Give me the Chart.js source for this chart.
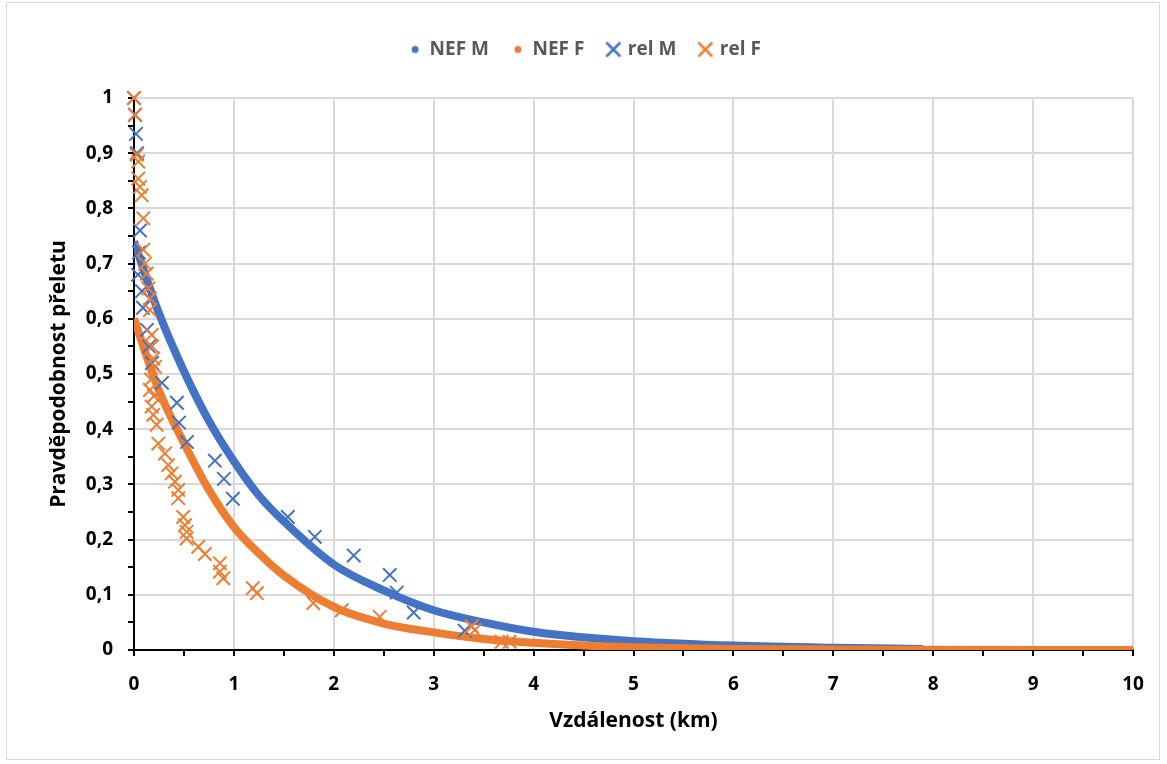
<!DOCTYPE html>
<html>
<head>
<meta charset="utf-8">
<script src="https://cdn.jsdelivr.net/npm/chart.js@4/dist/chart.umd.min.js"></script>
<style>
  body { margin: 0; background: #fff; }
  #frame { position: absolute; left: 6px; top: 2px; width: 1152px; height: 756px; border: 1px solid #d9d9d9; }
  #chart { position: absolute; left: 0; top: 0; }
</style>
</head>
<body>
<div id="frame"></div>
<canvas id="chart" width="1167" height="764"></canvas>
<script>
// fitted NEF curves
const nefX = [0, 0.25, 0.5, 0.75, 1, 1.25, 1.5, 2, 2.5, 3, 3.5, 4, 4.5, 5, 6, 7, 7.9, 9, 10];
const nefM = [0.74, 0.61, 0.505, 0.415, 0.342, 0.28, 0.233, 0.155, 0.108, 0.072, 0.05, 0.033, 0.023, 0.016, 0.008, 0.004, 0.002, null, null];
const nefF = [0.6, 0.47, 0.375, 0.29, 0.223, 0.175, 0.135, 0.078, 0.048, 0.032, 0.02, 0.013, 0.008, 0.005, 0.002, 0.001, 0.0005, 0, 0];

// measured points
const relMx = [0.0, 0.01, 0.02, 0.03, 0.06, 0.05, 0.04, 0.08, 0.09, 0.13, 0.15, 0.18, 0.28, 0.43, 0.45, 0.53, 0.81, 0.9, 0.99, 1.54, 1.81, 2.2, 2.56, 2.63, 2.8, 3.31];
const relMy = [1.0, 0.97, 0.935, 0.9, 0.76, 0.72, 0.68, 0.65, 0.62, 0.58, 0.55, 0.52, 0.484, 0.448, 0.412, 0.377, 0.343, 0.31, 0.274, 0.241, 0.205, 0.171, 0.136, 0.104, 0.068, 0.035];

const relFx = [0.0, 0.01, 0.027, 0.043, 0.043, 0.06, 0.077, 0.093, 0.093, 0.11, 0.127, 0.143, 0.16, 0.16, 0.177, 0.18, 0.193, 0.21, 0.17, 0.16, 0.2, 0.177, 0.193, 0.227, 0.243, 0.31, 0.343, 0.377, 0.41, 0.443, 0.443, 0.493, 0.51, 0.527, 0.527, 0.644, 0.71, 0.86, 0.86, 0.894, 1.19, 1.23, 1.795, 2.08, 2.46, 3.38, 3.41, 3.68, 3.76];
const relFy = [1.0, 0.969, 0.897, 0.885, 0.854, 0.839, 0.824, 0.782, 0.725, 0.70, 0.682, 0.655, 0.637, 0.616, 0.571, 0.55, 0.528, 0.513, 0.49, 0.471, 0.46, 0.441, 0.426, 0.408, 0.374, 0.356, 0.335, 0.32, 0.305, 0.29, 0.275, 0.241, 0.226, 0.214, 0.202, 0.187, 0.174, 0.157, 0.142, 0.13, 0.112, 0.103, 0.085, 0.072, 0.06, 0.043, 0.036, 0.015, 0.015];

const BLUE = '#4472C4';
const ORANGE = '#ED7D31';

function pts(xs, ys) {
    return xs.map((x, i) => ({ x, y: ys[i] })).filter(p => p.y !== null);
}

function dotIcon(color) {
    const c = document.createElement('canvas');
    c.width = 10; c.height = 10;
    const g = c.getContext('2d');
    g.fillStyle = color;
    g.beginPath(); g.arc(5, 5, 3.5, 0, Math.PI * 2); g.fill();
    return c;
}
function crossIcon(color) {
    const c = document.createElement('canvas');
    c.width = 20; c.height = 20;
    const g = c.getContext('2d');
    g.strokeStyle = color; g.lineWidth = 2.5;
    g.beginPath();
    g.moveTo(3, 3); g.lineTo(17, 17);
    g.moveTo(17, 3); g.lineTo(3, 17);
    g.stroke();
    return c;
}
const icons = [dotIcon(BLUE), dotIcon(ORANGE), crossIcon(BLUE), crossIcon(ORANGE)];

Chart.defaults.font.family = "'Open Sans', sans-serif";

const isInt = v => Math.abs(v - Math.round(v)) < 1e-6;
const isTenth = v => Math.round(v * 100) % 10 === 0;

const legendHeight = {
    id: 'legendHeight',
    beforeInit(chart) {
        const fit = chart.legend.fit;
        chart.legend.fit = function () {
            fit.call(this);
            this.height = 82;
        };
    }
};

const ctx = document.getElementById('chart').getContext('2d');
new Chart(ctx, {
    type: 'scatter',
    data: {
        datasets: [
            {
                label: 'NEF M',
                data: pts(nefX, nefM),
                showLine: true,
                borderColor: BLUE,
                backgroundColor: BLUE,
                borderWidth: 8,
                pointRadius: 0,
                cubicInterpolationMode: 'monotone',
                order: 4
            },
            {
                label: 'NEF F',
                data: pts(nefX, nefF),
                showLine: true,
                borderColor: ORANGE,
                backgroundColor: ORANGE,
                borderWidth: 8,
                pointRadius: 0,
                cubicInterpolationMode: 'monotone',
                order: 3
            },
            {
                label: 'rel M',
                data: pts(relMx, relMy),
                pointStyle: 'crossRot',
                pointRadius: 9.5,
                borderWidth: 2,
                borderColor: BLUE,
                backgroundColor: BLUE,
                clip: false,
                order: 2
            },
            {
                label: 'rel F',
                data: pts(relFx, relFy),
                pointStyle: 'crossRot',
                pointRadius: 9.5,
                borderWidth: 2,
                borderColor: ORANGE,
                backgroundColor: ORANGE,
                clip: false,
                order: 1
            }
        ]
    },
    options: {
        responsive: false,
        animation: false,
        layout: { padding: { left: 38, right: 34, top: 16, bottom: 26 } },
        plugins: {
            tooltip: { enabled: false },
            legend: {
                position: 'top',
                labels: {
                    usePointStyle: true,
                    boxWidth: 10,
                    padding: 24,
                    color: '#595959',
                    font: { size: 19, weight: 'bold' },
                    sort: (a, b) => a.datasetIndex - b.datasetIndex,
                    generateLabels(chart) {
                        const items = Chart.defaults.plugins.legend.labels.generateLabels(chart);
                        return items.map(it => {
                            it.pointStyle = icons[it.datasetIndex];
                            it.lineWidth = 0;
                            return it;
                        });
                    }
                }
            }
        },
        scales: {
            x: {
                type: 'linear',
                min: 0,
                max: 10,
                afterFit(scale) { scale.height = 88; },
                ticks: {
                    stepSize: 0.5,
                    autoSkip: false,
                    maxRotation: 0,
                    padding: 17,
                    color: '#000',
                    font: { size: 19, weight: 'bold' },
                    callback: v => isInt(v) ? String(Math.round(v)) : ''
                },
                grid: {
                    color: c => isInt(c.tick.value) ? '#d9d9d9' : 'rgba(0,0,0,0)',
                    lineWidth: 2,
                    tickColor: '#000',
                    tickLength: 6,
                    tickWidth: 2
                },
                border: { color: '#000', width: 2 },
                title: {
                    display: true,
                    text: 'Vzdálenost (km)',
                    color: '#000',
                    font: { size: 21, weight: 'bold' },
                    padding: { top: 2, bottom: 4 }
                }
            },
            y: {
                min: 0,
                max: 1,
                afterFit(scale) { scale.width = 96; },
                ticks: {
                    stepSize: 0.05,
                    autoSkip: false,
                    padding: 15,
                    color: '#000',
                    font: { size: 19, weight: 'bold' },
                    callback: v => isTenth(v) ? String(Math.round(v * 10) / 10).replace('.', ',') : ''
                },
                grid: {
                    color: c => isTenth(c.tick.value) ? '#d9d9d9' : 'rgba(0,0,0,0)',
                    lineWidth: 2,
                    tickColor: '#000',
                    tickLength: 6,
                    tickWidth: 2
                },
                border: { color: '#000', width: 2 },
                title: {
                    display: true,
                    text: 'Pravděpodobnost přeletu',
                    color: '#000',
                    font: { size: 21, weight: 'bold' },
                    padding: { top: 8, bottom: 4 }
                }
            }
        }
    },
    plugins: [legendHeight]
});
</script>
</body>
</html>
